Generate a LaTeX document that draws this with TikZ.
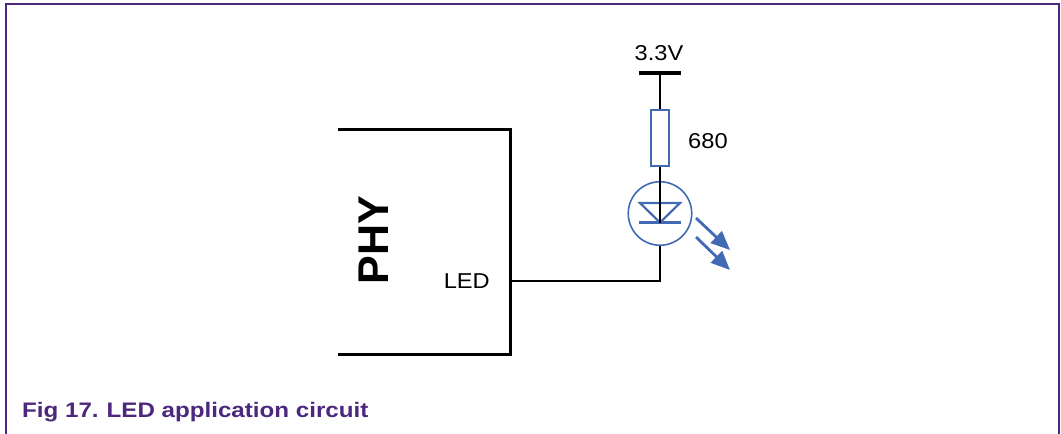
\documentclass[tikz,border=0pt]{standalone}
\usepackage{fontspec}
\setmainfont{Liberation Sans}
\newfontfamily\widefont[FakeStretch=1.1]{Liberation Sans}
\newfontfamily\capfont[FakeStretch=1.15]{Liberation Sans}
\usetikzlibrary{arrows.meta}
\definecolor{nxppurple}{RGB}{75,40,125}
\definecolor{ledblue}{RGB}{65,105,180}
\tikzset{
  wire/.style={line width=1.8pt, black},
  boxline/.style={line width=3pt, black},
  blueline/.style={line width=2.2pt, ledblue},
  lbl/.style={inner sep=0pt, font=\widefont\fontsize{21.5}{25}\selectfont},
  ray/.style={line width=2.8pt, ledblue, -{Triangle[length=19pt,width=16pt]}},
}
\begin{document}
\begin{tikzpicture}[x=1pt,y=-1pt]
\useasboundingbox (0,0) rectangle (1061,434);
% frame
\draw[nxppurple, line width=1.8pt] (6,434) -- (6,4) -- (1059,4) -- (1059,434);
% PHY block
\coordinate (bt1) at (338,129);
\coordinate (bt2) at (510,129);
\coordinate (bb1) at (338,354);
\coordinate (bb2) at (510,354);
\draw[boxline] (bt1) -- (bt2) -- (bb2) -- (bb1);
\node[inner sep=0pt, font=\fontsize{43}{50}\selectfont\bfseries, rotate=90] (phy) at (374,240) {PHY};
\node[lbl, anchor=base east] (ledlbl) at (490,288.5) {LED};
\coordinate (pin) at (510,281);
% LED
\coordinate (corner) at (660,281);
\node[circle, draw=ledblue, line width=1.6pt, minimum size=63.5pt, inner sep=0pt] (led) at (660,213.5) {};
\draw[wire] (pin) -- (corner) -- (led.south);
\draw[blueline, line join=miter] (640,203) -- (680,203) -- (660,222.5) -- cycle;
\draw[blueline] (639,222.5) -- (681,222.5);
\draw[wire] (led.north) -- (660,222.5);
% resistor
\node[draw=ledblue, line width=2.6pt, minimum width=18pt, minimum height=56pt, inner sep=0pt] (res) at (660,138) {};
\draw[wire] (res.south) -- (led.north);
% supply
\coordinate (vbar) at (660,73);
\draw[line width=3.2pt] (639,73) -- (681,73);
\draw[wire] (vbar) -- (res.north);
\node[lbl, anchor=base] (vcc) at (659,60) {3.3V};
\node[lbl, anchor=base west] (rval) at (688,148) {680};
% light rays
\coordinate (r1a) at (696,218);
\coordinate (r1b) at (730,250);
\coordinate (r2a) at (696,237);
\coordinate (r2b) at (730,270);
\draw[ray] (r1a) -- (r1b);
\draw[ray] (r2a) -- (r2b);
% caption
\node[inner sep=0pt, anchor=base west, text=nxppurple, font=\capfont\fontsize{21}{25}\selectfont\bfseries] (cap) at (22,417) {Fig 17.\hspace{8pt}LED application circuit};
\end{tikzpicture}
\end{document}
